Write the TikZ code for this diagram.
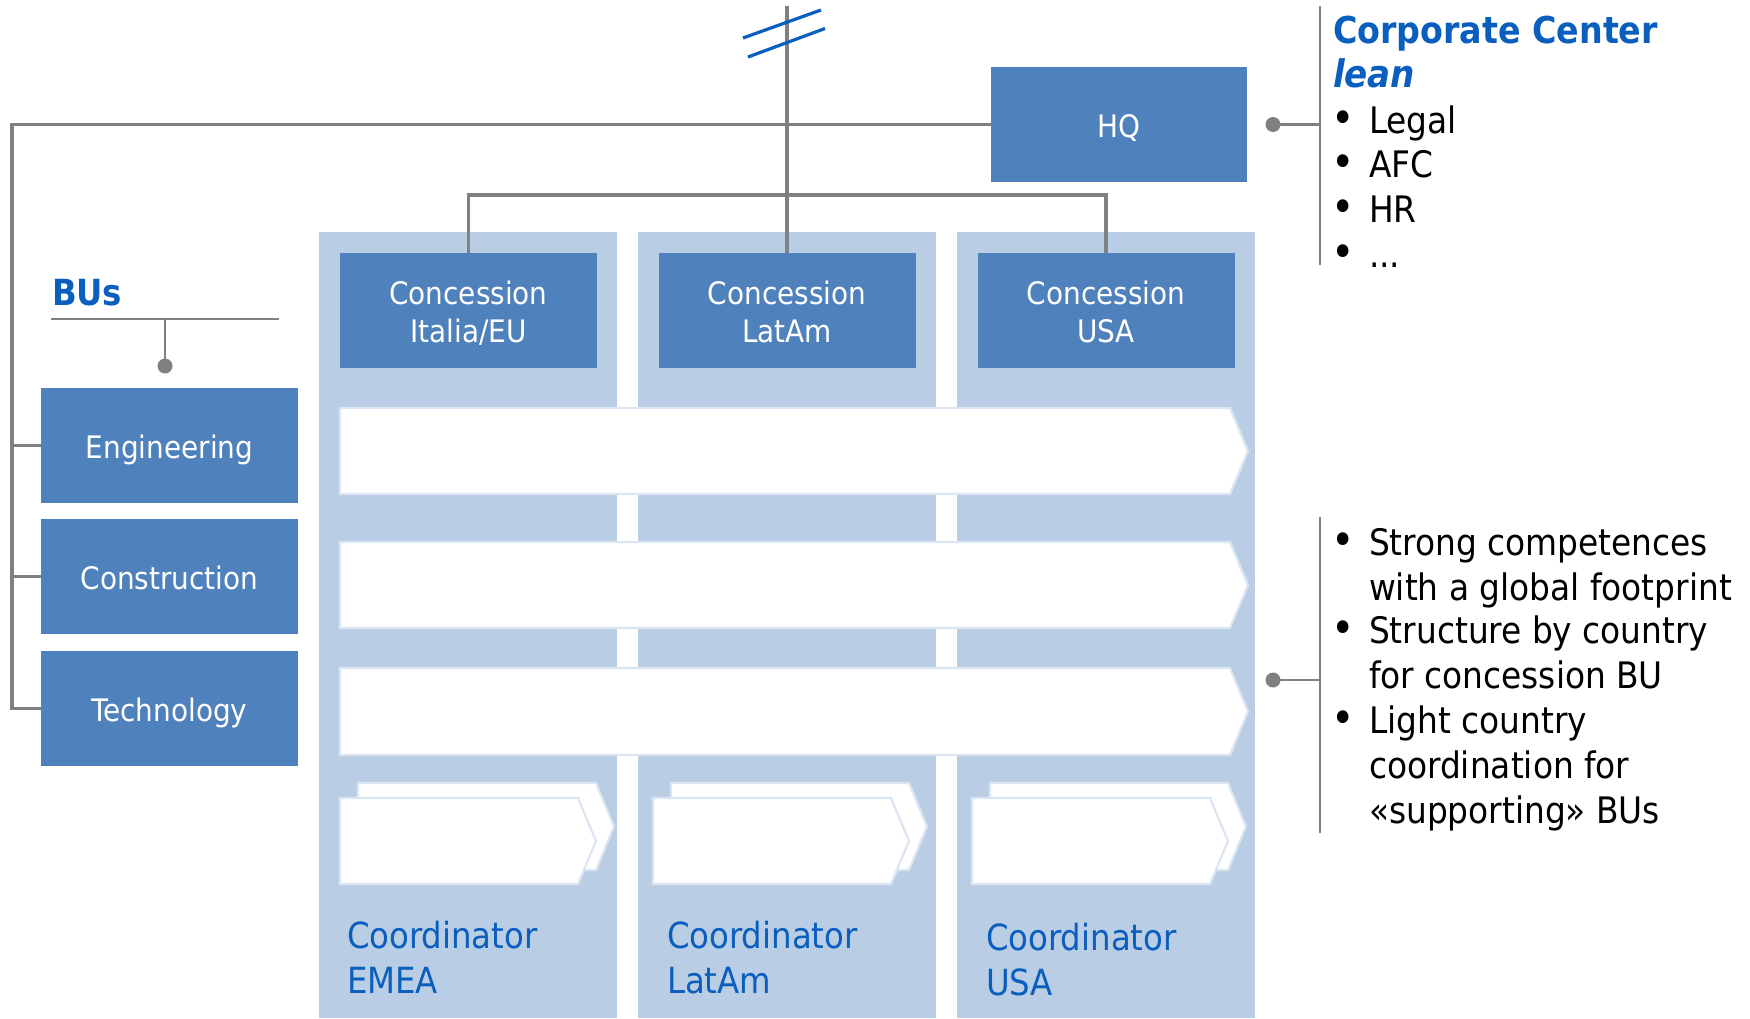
\documentclass[tikz,border=0pt]{standalone}
\usepackage{fontspec}
\setmainfont{DejaVu Sans Condensed}
\definecolor{boxblue}{HTML}{4F81BD}
\definecolor{panelblue}{HTML}{B9CDE5}
\definecolor{txtblue}{HTML}{0A5EBE}
\definecolor{conngray}{HTML}{808080}
\definecolor{chevedge}{HTML}{DCE6F2}
\newcommand{\firstln}{\rule{0pt}{30pt}}
\newcommand{\lastln}{\rule[-5pt]{0pt}{5pt}}
\newcommand{\bul}{{\fontsize{44}{45}\selectfont •}}
\begin{document}
\begin{tikzpicture}[x=1pt,y=-1pt,
  unitbox/.style={fill=boxblue, draw=none, text=white, inner sep=0pt, outer sep=0pt,
    font=\fontsize{31}{38}\selectfont, align=center, minimum width=257pt, minimum height=115pt},
  oneline/.style={text height=34pt, text depth=8pt},
  panel/.style={fill=panelblue, draw=none},
  chev/.style={fill=white, draw=chevedge, line width=2.2pt, line join=miter},
  conn/.style={draw=conngray, line width=3.2pt},
  thinconn/.style={draw=conngray, line width=2.2pt},
  dotnode/.style={circle, fill=conngray, inner sep=0pt, minimum size=15pt},
  lbl/.style={anchor=base west, inner sep=0pt, outer sep=0pt},
  listtxt/.style={lbl, font=\fontsize{36.5}{45}\selectfont, text=black},
  headtxt/.style={lbl, font=\fontsize{37}{45}\selectfont\bfseries, text=txtblue},
  coordtxt/.style={lbl, font=\fontsize{36}{45}\selectfont, text=txtblue},
  slash/.style={draw=txtblue, line width=3.2pt}
]
\useasboundingbox (0,0) rectangle (1750,1018);

% column panels
\fill[panel] (319,232) rectangle (617,1018);
\fill[panel] (638,232) rectangle (936,1018);
\fill[panel] (957,232) rectangle (1255,1018);

% wide chevrons
\foreach \t/\b in {408/494, 542/628, 668/755}{
  \path[chev] (340,\t) -- (1230,\t) -- (1248,{(\t+\b)/2}) -- (1230,\b) -- (340,\b) -- cycle;
}

% small double chevrons
\foreach \bl/\fl in {358/340, 671/653, 990/972}{
  \path[chev] (\bl,783) -- ({\bl+238},783) -- ({\bl+256},826.5) -- ({\bl+238},870) -- (\bl,870) -- cycle;
  \path[chev] (\fl,798) -- ({\fl+238},798) -- ({\fl+256},841) -- ({\fl+238},884) -- (\fl,884) -- cycle;
}

% coordinator labels
\node[coordtxt] (c1a) at (347,948) {Coordinator};
\node[coordtxt] (c1b) at (347,993) {EMEA};
\node[coordtxt] (c2a) at (667,948) {Coordinator};
\node[coordtxt] (c2b) at (667,993) {LatAm};
\node[coordtxt] (c3a) at (986,950) {Coordinator};
\node[coordtxt] (c3b) at (986,995) {USA};

% boxes
\node[unitbox, oneline, minimum width=256pt] (hq) at (1119,124.5) {HQ};
\node[unitbox] (ita) at (468.5,310.5) {\firstln Concession\\Italia/EU\lastln};
\node[unitbox] (lat) at (787,310.5) {\firstln Concession\\LatAm\lastln};
\node[unitbox] (usa) at (1106,310.5) {\firstln Concession\\USA\lastln};
\node[unitbox, oneline] (eng) at (169.5,445.5) {Engineering};
\node[unitbox, oneline] (con) at (169.5,576.5) {Construction};
\node[unitbox, oneline] (tec) at (169.5,708.5) {Technology};

% connectors
\coordinate (lbus) at (12,124.5);
\coordinate (cbus) at (0,195);
\coordinate (toptip) at (787,6);
\draw[conn] (hq.west) -- (lbus) |- (tec.west);
\draw[conn] (lbus |- eng.west) -- (eng.west);
\draw[conn] (lbus |- con.west) -- (con.west);
\draw[conn] (lat.north) -- (toptip);
\draw[conn] (ita.north) -- (ita.north |- cbus) -- (usa.north |- cbus) -- (usa.north);

% slash marks
\coordinate (s1a) at (743,38);
\coordinate (s1b) at (821,10);
\coordinate (s2a) at (748,57);
\coordinate (s2b) at (825,28.5);
\draw[slash] (s1a) -- (s1b);
\draw[slash] (s2a) -- (s2b);

% BUs
\node[headtxt, font=\fontsize{36}{45}\selectfont\bfseries] (bus) at (52,305) {BUs};
\coordinate (busl) at (51,319);
\coordinate (busr) at (279,319);
\node[dotnode] (busdot) at (165,366) {};
\draw[thinconn] (busl) -- (busr);
\draw[thinconn] (busdot.center) -- (busdot.center |- busl);

% Corporate center block
\node[headtxt] (cc) at (1333,43) {Corporate Center};
\node[headtxt, font=\fontsize{38}{45}\selectfont\bfseries\itshape] (lean) at (1333,87) {lean};
\node[listtxt] (b1) at (1331,133) {\bul};
\node[listtxt] (t1) at (1369,133) {Legal};
\node[listtxt] (b2) at (1331,177) {\bul};
\node[listtxt] (t2) at (1369,177) {AFC};
\node[listtxt] (b3) at (1331,222) {\bul};
\node[listtxt] (t3) at (1369,222) {HR};
\node[listtxt] (b4) at (1331,267) {\bul};
\node[listtxt] (t4) at (1369,267) {...};
\coordinate (br1t) at (1320,6);
\coordinate (br1b) at (1320,265);
\node[dotnode] (d1) at (1273,124.5) {};
\draw[thinconn] (br1t) -- (br1b);
\draw[thinconn] (d1.center) -- (d1.center -| br1t);

% lower right block
\node[listtxt] (lb1) at (1331,555) {\bul};
\node[listtxt] (l1) at (1369,555) {Strong competences};
\node[listtxt] (l2) at (1369,600) {with a global footprint};
\node[listtxt] (lb2) at (1331,643) {\bul};
\node[listtxt] (l3) at (1369,643) {Structure by country};
\node[listtxt] (l4) at (1369,688) {for concession BU};
\node[listtxt] (lb3) at (1331,733) {\bul};
\node[listtxt] (l5) at (1369,733) {Light country};
\node[listtxt] (l6) at (1369,778) {coordination for};
\node[listtxt] (l7) at (1369,823) {«supporting» BUs};
\coordinate (br2t) at (1320,517);
\coordinate (br2b) at (1320,833);
\node[dotnode] (d2) at (1273,680) {};
\draw[thinconn] (br2t) -- (br2b);
\draw[thinconn] (d2.center) -- (d2.center -| br2t);
\end{tikzpicture}
\end{document}
